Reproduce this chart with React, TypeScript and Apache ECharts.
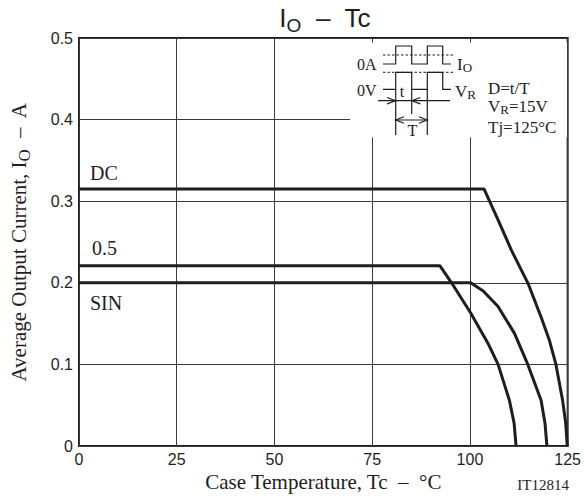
import React, { useEffect, useRef } from "react";
import * as echarts from "echarts";

// ---- data ----
const xMin = 0;
const xMax = 125;
const xStep = 25;
const yMin = 0;
const yMax = 0.5;
const yStep = 0.1;

const seriesNames = ["DC", "0.5", "SIN"];

const dcTemp = [0, 103.6, 107.2, 110.6, 114.8, 118.2, 120.3, 122.0, 123.7, 124.5, 124.9];
const dcCurrent = [0.315, 0.315, 0.277, 0.24, 0.2, 0.158, 0.13, 0.1, 0.056, 0.028, 0];

const halfTemp = [0, 92.3, 95.3, 100.2, 104.6, 107.2, 110.1, 111.3, 111.8];
const halfCurrent = [0.221, 0.221, 0.2, 0.163, 0.126, 0.1, 0.056, 0.028, 0];

const sinTemp = [0, 100.2, 103.4, 107.2, 111.4, 114.8, 118.2, 119.2, 119.7];
const sinCurrent = [0.2, 0.2, 0.19, 0.171, 0.138, 0.1, 0.056, 0.028, 0];

const SERIF = "'Liberation Serif', 'Times New Roman', serif";
const SANS = "'Liberation Sans', Arial, sans-serif";
const INK = "#1e1e1e";

function pairs(xs: number[], ys: number[]) {
  return xs.map((x, i) => [x, ys[i]]);
}

export default function App() {
  const ref = useRef<HTMLDivElement | null>(null);

  useEffect(() => {
    if (!ref.current) return;
    const chart = echarts.init(ref.current, undefined, { renderer: "svg" });

    const lineStyle = { color: INK, width: 3 };
    const thin = { stroke: INK, lineWidth: 1.2, fill: "none" };
    const dashed = { stroke: INK, lineWidth: 1, lineDash: [2.5, 2], fill: "none" };
    const insetText = (text: string, x: number, y: number, align = "left", size = 17) => ({
      type: "text",
      x,
      y,
      z: 20,
      style: {
        text,
        fontFamily: SERIF,
        fontSize: size,
        lineHeight: size,
        fill: INK,
        align,
        verticalAlign: "middle",
      },
    });
    const subText = (main: string, sub: string, rest: string, x: number, y: number, size = 17) => ({
      type: "text",
      x,
      y,
      z: 20,
      style: {
        text: `{a|${main}}{b|${sub}}` + (rest ? `{a|${rest}}` : ""),
        align: "left",
        verticalAlign: "middle",
        rich: {
          a: { fontFamily: SERIF, fontSize: size, fill: INK, lineHeight: size + 2 },
          b: {
            fontFamily: SERIF,
            fontSize: size - 4,
            fill: INK,
            lineHeight: size - 4,
            verticalAlign: "bottom",
          },
        },
      },
    });

    const option: any = {
      animation: false,
      grid: {
        left: 79,
        right: 14,
        top: 38,
        bottom: 56,
        show: true,
        borderColor: INK,
        borderWidth: 2,
        containLabel: false,
      },
      xAxis: {
        type: "value",
        min: xMin,
        max: xMax,
        interval: xStep,
        name: "Case Temperature, Tc  –  °C",
        nameLocation: "middle",
        nameGap: 25,
        nameTextStyle: { fontFamily: SERIF, fontSize: 21, color: INK, lineHeight: 21 },
        axisLine: { show: false },
        axisTick: { show: false },
        axisLabel: { fontFamily: SANS, fontSize: 16, color: INK, margin: 5 },
        splitLine: { show: true, lineStyle: { color: "#3a3a3a", width: 1 } },
      },
      yAxis: {
        type: "value",
        min: yMin,
        max: yMax,
        interval: yStep,
        name: "{a|Average Output Current, I}{b|O}{a|  –  A}",
        nameLocation: "middle",
        nameGap: 46,
        nameTextStyle: {
          color: INK,
          rich: {
            a: { fontFamily: SERIF, fontSize: 21, color: INK, lineHeight: 28 },
            b: { fontFamily: SERIF, fontSize: 17, color: INK, lineHeight: 17, verticalAlign: "bottom" },
          },
        },
        axisLine: { show: false },
        axisTick: { show: false },
        axisLabel: {
          fontFamily: SANS,
          fontSize: 16,
          color: INK,
          margin: 6,
          formatter: (v: number) => (v === 0 ? "0" : v.toFixed(1)),
        },
        splitLine: { show: true, lineStyle: { color: "#3a3a3a", width: 1 } },
      },
      series: [
        { name: seriesNames[0], type: "line", data: pairs(dcTemp, dcCurrent), symbol: "none", lineStyle, z: 3 },
        { name: seriesNames[1], type: "line", data: pairs(halfTemp, halfCurrent), symbol: "none", lineStyle, z: 3 },
        { name: seriesNames[2], type: "line", data: pairs(sinTemp, sinCurrent), symbol: "none", lineStyle, z: 3 },
      ],
      graphic: [
        // title
        {
          type: "text",
          x: 325,
          y: 17.5,
          style: {
            text: "{a|I}{b|O}{a|  –  Tc}",
            align: "center",
            verticalAlign: "middle",
            rich: {
              a: { fontFamily: SANS, fontSize: 26, fill: INK, lineHeight: 34 },
              b: { fontFamily: SANS, fontSize: 19, fill: INK, lineHeight: 19, verticalAlign: "bottom" },
            },
          },
        },
        // curve labels
        insetText(seriesNames[0], 90, 173, "left", 20),
        insetText(seriesNames[1], 92, 247.5, "left", 20),
        insetText(seriesNames[2], 90, 302.5, "left", 20),
        // figure code
        insetText("IT12814", 569, 485, "right", 15),
        // inset background
        {
          type: "rect",
          z: 10,
          shape: { x: 350, y: 42.5, width: 217, height: 95 },
          style: { fill: "#ffffff" },
        },
        // dashed reference levels
        { type: "line", z: 20, shape: { x1: 383, y1: 55, x2: 453, y2: 55 }, style: dashed },
        { type: "line", z: 20, shape: { x1: 383, y1: 72.3, x2: 453, y2: 72.3 }, style: dashed },
        // IO waveform
        {
          type: "polyline",
          z: 20,
          shape: {
            points: [
              [383, 64], [395.7, 64], [395.7, 46], [411.7, 46], [411.7, 64],
              [427.3, 64], [427.3, 46], [442.7, 46], [442.7, 64], [451, 64],
            ],
          },
          style: thin,
        },
        // VR waveform
        {
          type: "polyline",
          z: 20,
          shape: {
            points: [
              [383, 89.3], [395.7, 89.3], [395.7, 72.3], [411.7, 72.3], [411.7, 89.3],
              [427.3, 89.3], [427.3, 72.3], [442.7, 72.3], [442.7, 89.3], [451, 89.3],
            ],
          },
          style: thin,
        },
        // extension lines
        { type: "line", z: 20, shape: { x1: 395.7, y1: 89.3, x2: 395.7, y2: 135 }, style: thin },
        { type: "line", z: 20, shape: { x1: 411.7, y1: 89.3, x2: 411.7, y2: 114 }, style: thin },
        { type: "line", z: 20, shape: { x1: 427.3, y1: 89.3, x2: 427.3, y2: 135 }, style: thin },
        // t dimension
        { type: "line", z: 20, shape: { x1: 378, y1: 100.7, x2: 450, y2: 100.7 }, style: thin },
        { type: "polyline", z: 20, shape: { points: [[387, 97.5], [395.7, 100.7], [387, 103.9]] }, style: thin },
        { type: "polyline", z: 20, shape: { points: [[420.4, 97.5], [411.7, 100.7], [420.4, 103.9]] }, style: thin },
        // T dimension
        { type: "line", z: 20, shape: { x1: 395.7, y1: 120, x2: 427.3, y2: 120 }, style: thin },
        { type: "polyline", z: 20, shape: { points: [[404, 116.8], [395.7, 120], [404, 123.2]] }, style: thin },
        { type: "polyline", z: 20, shape: { points: [[419, 116.8], [427.3, 120], [419, 123.2]] }, style: thin },
        // inset texts
        insetText("0A", 357, 64, "left", 16),
        insetText("0V", 357, 90, "left", 16),
        insetText("t", 402, 91, "center", 16),
        insetText("T", 412.5, 130, "center", 16),
        subText("I", "O", "", 457, 64, 17),
        subText("V", "R", "", 455, 91.5, 17),
        insetText("D=t/T", 488, 88, "left", 17),
        subText("V", "R", "=15V", 488, 106.5, 17),
        insetText("Tj=125°C", 488, 127.5, "left", 17),
      ],
    };

    chart.setOption(option);
    return () => chart.dispose();
  }, []);

  return (
    <div
      ref={ref}
      style={{ position: "fixed", left: 0, top: 0, width: 584, height: 502, background: "#fff" }}
    />
  );
}
